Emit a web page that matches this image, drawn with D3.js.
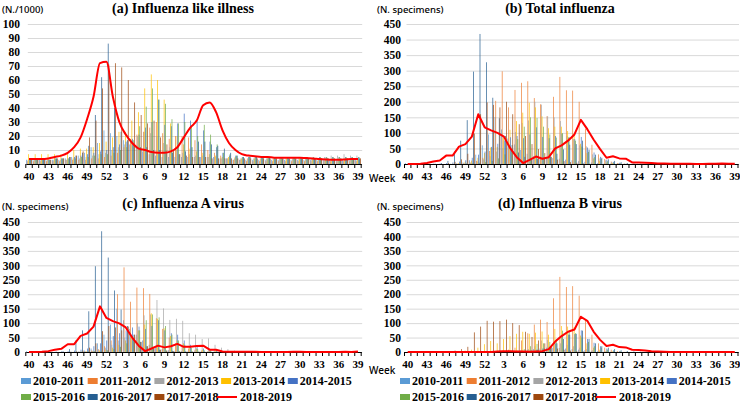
<!DOCTYPE html>
<html><head><meta charset="utf-8">
<script src="https://cdn.jsdelivr.net/npm/d3@7"></script>
<style>html,body{margin:0;padding:0;background:#fff;}svg{display:block;}</style>
</head><body>
<svg id="chart" width="740" height="404"></svg>
<script>
// ---------------- DATA ----------------
const weeks = [40,41,42,43,44,45,46,47,48,49,50,51,52,1,2,3,4,5,6,7,8,9,10,11,12,13,14,15,16,17,18,19,20,21,22,23,24,25,26,27,28,29,30,31,32,33,34,35,36,37,38,39];
const seasons = ["2010-2011","2011-2012","2012-2013","2013-2014","2014-2015","2015-2016","2016-2017","2017-2018"];
const lineSeason = "2018-2019";

// (a) Influenza like illness (per 1000)
const ili_1011 = [3,3,3,3,3,3,4,5,6,8,12,15,24, 22,20,17,14,12,9,7,6,5,5,5,5,5, 5,5,5,5,4,4,3,3,3,3,3,3,3, 3,3,3,3,3,3,3,3,3,3,3,3,3];
const ili_1112 = [2,2,2,2,2,2,3,3,3,3,4,4,5, 6,8,12,18,21,23,26,30,22,18,20,20,19, 17,14,10,8,6,4,3,3,2,2,2,2,2, 2,2,2,2,2,2,2,2,2,2,2,2,2];
const ili_1213 = [3,3,3,3,3,3,3,4,4,5,6,7,8, 10,12,14,16,20,23,22,20,15,12,10,8,7, 6,6,5,5,4,4,4,4,4,4,4,4,4, 4,4,4,4,4,4,4,5,6,6,7,6,6];
const ili_1314 = [7,7,7,7,7,7,8,10,11,11,12,15,16, 19,23,23,31,37,54,64,60,46,29,20,14,11, 9,8,7,6,5,5,5,4,4,4,4,4,4, 4,4,4,4,4,4,4,4,4,4,4,4,4];
const ili_1415 = [3,3,3,3,4,4,4,5,6,7,8,9,10, 12,14,16,18,21,26,30,46,28,27,29,36,31, 31,24,16,12,8,6,6,5,5,5,5,5,5, 5,5,5,5,5,5,5,5,5,5,5,5,5];
const ili_1516 = [3,3,3,3,4,4,4,4,5,5,6,7,7, 8,10,12,17,27,41,54,46,43,32,29,30,27, 20,28,21,14,8,7,6,5,5,5,5,5,5, 5,5,5,5,5,5,5,5,5,5,5,5,5];
const ili_1617 = [3,3,3,3,4,4,5,6,8,13,35,62,86, 40,23,17,14,12,12,10,10,9,8,7,9,12, 16,16,14,13,11,8,6,5,5,5,5,5,4, 4,4,4,4,4,4,4,4,4,4,4,4,4];
const ili_1718 = [3,3,3,3,4,4,5,6,9,19,31,54,71, 72,69,60,44,35,29,31,19,14,10,7,6,5, 5,5,4,4,4,4,4,4,4,4,4,4,4, 4,4,4,4,4,4,4,4,4,4,4,4,4];
const ili_1819 = [3.5,3.5,3.5,4,5,6,8,12,19,32,48,72,73, 48,30,21,15,11,10,8.5,8,8,9,12,19,26, 31,42,44,37,24,15,10,7,6,5.5,5,5,4.5, 4.5,4.5,4.5,4.5,4.2,4,3.5,3.2,3,3,3.2,3.5,3.5];

// (b) Total influenza (N. specimens)
const tot_1011 = [3,0,0,0,0,0,0,1,2,5,12,30,60, 95,151,111,82,63,45,33,25,22,21,19,17,14, 12,9,7,5,3,2,1,1,0,0,0,0,0, 0,0,0,0,0,0,0,0,0,0,0,0,0];
const tot_1112 = [0,0,0,0,0,0,0,0,1,2,5,10,20, 42,203,298,182,238,261,266,212,192,154,216,280,237, 236,200,113,62,31,16,8,3,1,0,0,0,0, 0,0,0,0,0,0,0,0,0,0,0,0,0];
const tot_1213 = [0,0,0,0,0,0,0,0,1,2,4,8,15, 25,40,51,62,103,132,140,200,191,153,150,138,90, 80,60,57,31,18,12,6,3,2,1,1,0,0, 0,0,0,0,0,0,0,0,0,0,0,0,0];
const tot_1314 = [0,0,0,0,0,0,0,1,3,7,11,20,35, 53,55,85,110,138,165,197,182,153,115,120,120,106, 98,65,35,18,10,5,3,1,0,0,0,0,0, 0,0,0,0,0,0,0,0,0,0,0,0,0];
const tot_1415 = [0,0,0,0,1,2,3,5,8,12,20,30,40, 55,65,76,86,90,83,95,118,87,83,90,98,85, 80,87,53,37,23,14,7,4,1,0,0,0,0, 0,0,0,0,0,0,0,0,0,0,0,0,0];
const tot_1516 = [0,0,0,0,0,0,0,0,1,2,3,4,6, 10,18,31,47,80,120,150,148,120,95,85,99,87, 75,56,39,22,16,9,4,2,1,0,0,0,0, 0,0,0,0,0,0,0,0,0,0,0,0,0];
const tot_1617 = [0,0,0,0,1,3,10,40,75,141,297,418,327, 213,147,90,61,37,23,17,16,17,24,33,47,62, 64,75,46,30,20,15,10,6,3,2,1,0,0, 0,0,0,0,0,0,0,0,0,0,0,0,0];
const tot_1718 = [0,0,0,0,0,0,3,7,15,33,98,160,198, 190,182,200,160,128,90,64,48,35,23,14,9,6, 4,2,1,0,0,0,0,0,0,0,0,0,0, 0,0,0,0,0,0,0,0,0,0,0,0,0];
const tot_1819 = [0,0,1,3,8,11,27,27,56,64,88,160,118, 108,100,88,50,22,3,13,24,17,22,50,60,75, 95,142,112,78,48,20,25,18,17,5,5,4,3, 2,2,1,1,1,1,0,0,1,1,2,1,1];

// (c) Influenza A virus (N. specimens)
const a_1011 = [3,0,0,0,0,0,0,1,2,5,12,30,60, 95,150,110,80,60,40,25,15,10,6,4,3,2, 2,1,1,1,0,0,0,0,0,0,0,0,0, 0,0,0,0,0,0,0,0,0,0,0,0,0];
const a_1112 = [0,0,0,0,0,0,0,0,1,2,5,10,20, 40,200,293,174,223,221,201,117,80,50,30,20,12, 8,5,3,2,1,1,0,0,0,0,0,0,0, 0,0,0,0,0,0,0,0,0,0,0,0,0];
const a_1213 = [0,0,0,0,0,0,0,0,1,2,4,8,15, 25,40,50,60,100,127,130,180,151,111,115,108,65, 60,45,47,25,15,10,5,3,2,1,1,0,0, 0,0,0,0,0,0,0,0,0,0,0,0,0];
const a_1314 = [0,0,0,0,0,0,0,1,1,2,3,5,8, 15,25,40,55,75,95,134,115,82,55,40,30,18, 12,8,5,3,2,1,1,0,0,0,0,0,0, 0,0,0,0,0,0,0,0,0,0,0,0,0];
const a_1415 = [0,0,0,0,1,2,3,5,8,12,20,30,40, 55,65,75,85,88,80,90,110,75,65,60,40,25, 18,12,8,5,3,2,1,1,0,0,0,0,0, 0,0,0,0,0,0,0,0,0,0,0,0,0];
const a_1516 = [0,0,0,0,0,0,0,0,1,2,3,4,6, 10,18,30,45,75,110,130,120,90,60,40,25,15, 10,6,4,2,1,1,0,0,0,0,0,0,0, 0,0,0,0,0,0,0,0,0,0,0,0,0];
const a_1617 = [0,0,0,0,1,3,10,40,75,141,297,418,327, 213,147,90,60,35,20,12,8,5,4,3,2,2, 1,1,1,0,0,0,0,0,0,0,0,0,0, 0,0,0,0,0,0,0,0,0,0,0,0,0];
const a_1718 = [0,0,0,0,0,0,1,2,5,15,30,72,90, 85,75,88,60,35,20,12,8,5,3,2,1,1, 1,0,0,0,0,0,0,0,0,0,0,0,0, 0,0,0,0,0,0,0,0,0,0,0,0,0];
const a_1819 = [0,0,1,3,8,11,27,27,56,64,88,158,118, 107,99,85,50,22,3,12,22,16,20,28,18,18, 21,22,8,8,2,1,1,1,1,1,0,0,0, 0,0,1,1,0,0,0,0,0,0,1,0,2];

// (d) Influenza B virus (N. specimens)
const b_1011 = [0,0,0,0,0,0,0,0,0,0,0,0,0, 0,1,1,2,3,5,8,10,12,15,15,14,12, 10,8,6,4,3,2,1,1,0,0,0,0,0, 0,0,0,0,0,0,0,0,0,0,0,0,0];
const b_1112 = [0,0,0,0,0,0,0,0,0,0,0,0,0, 2,3,5,8,15,40,65,95,112,104,186,260,225, 228,195,110,60,30,15,8,3,1,0,0,0,0, 0,0,0,0,0,0,0,0,0,0,0,0,0];
const b_1213 = [0,0,0,0,0,0,0,0,0,0,0,0,0, 0,0,1,2,3,5,10,20,40,42,35,30,25, 20,15,10,6,3,2,1,0,0,0,0,0,0, 0,0,0,0,0,0,0,0,0,0,0,0,0];
const b_1314 = [0,0,0,0,0,0,0,0,2,5,8,15,27, 38,30,45,55,63,70,63,67,71,60,80,90,88, 86,57,30,15,8,4,2,1,0,0,0,0,0, 0,0,0,0,0,0,0,0,0,0,0,0,0];
const b_1415 = [0,0,0,0,0,0,0,0,0,0,0,0,0, 0,0,1,1,2,3,5,8,12,18,30,58,60, 62,75,45,32,20,12,6,3,1,0,0,0,0, 0,0,0,0,0,0,0,0,0,0,0,0,0];
const b_1516 = [0,0,0,0,0,0,0,0,0,0,0,0,0, 0,0,1,2,5,10,20,28,30,35,45,74,72, 65,50,35,20,15,8,4,2,1,0,0,0,0, 0,0,0,0,0,0,0,0,0,0,0,0,0];
const b_1617 = [0,0,0,0,0,0,0,0,0,0,0,0,0, 0,0,0,1,2,3,5,8,12,20,30,45,60, 63,74,45,30,20,15,10,6,3,2,1,0,0, 0,0,0,0,0,0,0,0,0,0,0,0,0];
const b_1718 = [0,0,0,0,0,0,2,5,10,18,68,88,108, 105,107,112,100,93,70,52,40,30,20,12,8,5, 3,2,1,0,0,0,0,0,0,0,0,0,0, 0,0,0,0,0,0,0,0,0,0,0,0,0];
const b_1819 = [0,0,0,0,0,0,0,0,0,0,0,0,0, 0,2,3,3,2,2,1,2,3,10,36,55,70, 78,122,108,70,42,21,25,17,16,8,7,5,3, 2,1,0,0,0,0,0,0,0,0,0,0,0];

const yTicksILI = [0,10,20,30,40,50,60,70,80,90,100];
const yTicksSpec = [0,50,100,150,200,250,300,350,400,450];

// ---------------- STYLE / LAYOUT ----------------
const barColors = ["#5B9BD5","#ED7D31","#A5A5A5","#FFC000","#4472C4","#70AD47","#255E91","#9E480E"];
const lineColor = "#FF0000";
const serif = "'Liberation Serif','Times New Roman',serif";
const sans = "'Noto Sans','Liberation Sans',sans-serif";

const panels = [
  {title:"(a) Influenza like illness", unit:"(N./1000)", bars:[ili_1011,ili_1112,ili_1213,ili_1314,ili_1415,ili_1516,ili_1617,ili_1718], line:ili_1819, ticks:yTicksILI,
   x0:25.8, x1:361.2, yTop:24, yBot:164, labelRight:20, titleX:183, titleY:13, unitX:2, unitY:13, curve:d3.curveMonotoneX},
  {title:"(b) Total influenza", unit:"(N. specimens)", bars:[tot_1011,tot_1112,tot_1213,tot_1314,tot_1415,tot_1516,tot_1617,tot_1718], line:tot_1819, ticks:yTicksSpec,
   x0:404.5, x1:738, yTop:24, yBot:164, labelRight:401, titleX:560, titleY:13, unitX:377, unitY:13, curve:d3.curveLinear},
  {title:"(c) Influenza A virus", unit:"(N. specimens)", bars:[a_1011,a_1112,a_1213,a_1314,a_1415,a_1516,a_1617,a_1718], line:a_1819, ticks:yTicksSpec,
   x0:25.8, x1:361.2, yTop:222, yBot:352, labelRight:20, titleX:183, titleY:208, unitX:2, unitY:210, curve:d3.curveLinear},
  {title:"(d) Influenza B virus", unit:"(N. specimens)", bars:[b_1011,b_1112,b_1213,b_1314,b_1415,b_1516,b_1617,b_1718], line:b_1819, ticks:yTicksSpec,
   x0:404.5, x1:738, yTop:222, yBot:352, labelRight:401, titleX:560, titleY:208, unitX:377, unitY:210, curve:d3.curveLinear}
];

const svg = d3.select("#chart");
svg.append("rect").attr("width",740).attr("height",404).attr("fill","#fff");

const yTickFont = 11.5;
const xTickFont = 11;

function drawPanel(p){
  const g = svg.append("g");
  const x = d3.scaleBand().domain(d3.range(weeks.length)).range([p.x0,p.x1]).padding(0);
  const xs = d3.scaleBand().domain(d3.range(seasons.length)).range([0,x.bandwidth()]).paddingInner(0).paddingOuter(0.6);
  const y = d3.scaleLinear().domain([0, p.ticks[p.ticks.length-1]]).range([p.yBot,p.yTop]);

  // y axis with gridlines
  const ya = g.append("g").attr("transform",`translate(${p.x0},0)`)
    .call(d3.axisLeft(y).tickValues(p.ticks).tickSize(-(p.x1-p.x0+1)).tickPadding(p.x0-p.labelRight));
  ya.select(".domain").remove();
  ya.selectAll(".tick line").attr("stroke","#D9D9D9").attr("stroke-width",1).attr("x1",2);
  ya.selectAll(".tick text").attr("font-family",serif).attr("font-weight","bold").attr("font-size",yTickFont).attr("fill","#000");

  // bars
  p.bars.forEach((arr,s)=>{
    g.append("g").selectAll("rect").data(arr).join("rect")
      .attr("x",(d,i)=>x(i)+xs(s)).attr("width",xs.bandwidth())
      .attr("y",d=>y(d)).attr("height",d=>y(0)-y(d)).attr("fill",barColors[s]);
  });

  // x axis
  const xa = g.append("g").attr("transform",`translate(0,${p.yBot})`)
    .call(d3.axisBottom(x).tickValues(d3.range(0,weeks.length,3)).tickFormat(i=>weeks[i]).tickSize(0).tickPadding(16-0.71*xTickFont));
  xa.select(".domain").attr("stroke","#000").attr("stroke-width",1);
  xa.selectAll(".tick text").attr("font-family",serif).attr("font-weight","bold").attr("font-size",xTickFont).attr("fill","#000");
  // category boundary tick marks
  const bounds = d3.range(weeks.length+1).map(i=> i<weeks.length ? x(i) : p.x1);
  xa.append("g").selectAll("line").data(bounds).join("line")
    .attr("x1",d=>d).attr("x2",d=>d).attr("y1",0).attr("y2",4).attr("stroke","#000").attr("stroke-width",1);

  // red line
  g.append("path").datum(p.line)
    .attr("d", d3.line().x((d,i)=>x(i)+x.bandwidth()/2).y(d=>y(d)).curve(p.curve))
    .attr("fill","none").attr("stroke",lineColor).attr("stroke-width",2).attr("stroke-linejoin","round");

  // title and unit
  g.append("text").attr("x",p.titleX).attr("y",p.titleY).attr("text-anchor","middle")
    .attr("font-family",serif).attr("font-weight","bold").attr("font-size",14).text(p.title);
  g.append("text").attr("x",p.unitX).attr("y",p.unitY)
    .attr("font-family",sans).attr("font-size",9.5).attr("font-weight",500).attr("fill","#000").text(p.unit);
}
panels.forEach(drawPanel);

// Week labels
[[369,182],[369,374]].forEach(([wx,wy])=>{
  svg.append("text").attr("x",wx).attr("y",wy).attr("font-family",sans).attr("font-size",10).attr("font-weight",500).attr("fill","#000").text("Week");
});

// Legends
function drawLegend(ox){
  const lg = svg.append("g").attr("transform",`translate(${ox},0)`);
  const step = 66.7;
  seasons.forEach((s,k)=>{
    const row = k<5 ? 0 : 1;
    const col = k<5 ? k : k-5;
    const cy = row===0 ? 381 : 397;
    const gx = 21 + col*step;
    lg.append("rect").attr("x",gx).attr("y",cy-3).attr("width",10).attr("height",6).attr("fill",barColors[k]);
    lg.append("text").attr("x",gx+12).attr("y",cy).attr("dy","0.35em").attr("font-family",serif).attr("font-weight","bold").attr("font-size",12).text(s);
  });
  lg.append("line").attr("x1",217).attr("x2",237).attr("y1",397).attr("y2",397).attr("stroke",lineColor).attr("stroke-width",2);
  lg.append("text").attr("x",240).attr("y",397).attr("dy","0.35em").attr("font-family",serif).attr("font-weight","bold").attr("font-size",12).text(lineSeason);
}
drawLegend(0);
drawLegend(379);
</script>
</body></html>
